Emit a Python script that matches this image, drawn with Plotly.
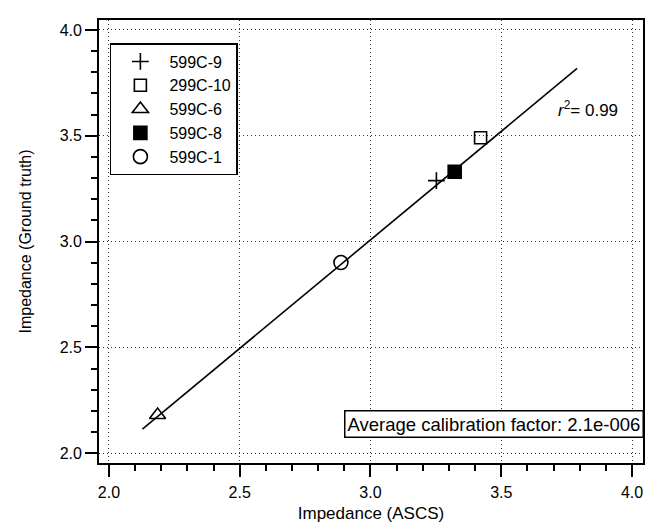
import plotly.graph_objects as go

# Data
series_names = ["599C-9", "299C-10", "599C-6", "599C-8", "599C-1"]
asc_x = [3.252, 3.421, 2.186, 3.322, 2.887]
truth_y = [3.288, 3.491, 2.181, 3.330, 2.901]
symbols = ["cross-thin", "square-open", "triangle-up-open", "square", "circle-open"]
marker_sizes = [12, 12, 14, 13, 14]

fit_x = [2.128, 3.790]
fit_y = [2.114, 3.818]

r2_text = "<i>r</i><sup>2</sup>= 0.99"
calib_text = "Average calibration factor: 2.1e-006"

FONT = "Arial, 'Liberation Sans', Helvetica, sans-serif"

fig = go.Figure()

fig.add_trace(go.Scatter(x=fit_x, y=fit_y, mode="lines",
                         line=dict(color="black", width=1.6),
                         showlegend=False, hoverinfo="skip"))

for name, xv, yv, sym, sz in zip(series_names, asc_x, truth_y, symbols, marker_sizes):
    fig.add_trace(go.Scatter(
        x=[xv], y=[yv], mode="markers", name=name,
        marker=dict(symbol=sym, size=sz, color="black",
                    line=dict(color="black", width=1.6))))

axis_common = dict(
    showline=True, linecolor="black", linewidth=1.8, mirror=True,
    ticks="outside", ticklen=12, tickwidth=1.8, tickcolor="black",
    showgrid=True, gridcolor="#333333", griddash="1px,3px", gridwidth=1,
    zeroline=False, dtick=0.5, tickformat=".1f",
    tickfont=dict(family=FONT, size=16, color="black"),
    minor=dict(ticks="outside", ticklen=6, tickwidth=1.5, tickcolor="black",
               dtick=0.1, showgrid=False),
)

fig.update_xaxes(**axis_common, range=[1.962, 4.042], tick0=2.0,
                 ticklabelstandoff=2,
                 title=dict(text="Impedance (ASCS)", standoff=7,
                            font=dict(family=FONT, size=17, color="black")))
fig.update_yaxes(**axis_common, range=[1.954, 4.047], tick0=2.0,
                 ticklabelstandoff=0,
                 title=dict(text="Impedance (Ground truth)", standoff=24,
                            font=dict(family=FONT, size=16, color="black")))

fig.add_annotation(x=3.83, y=3.625, xref="x", yref="y", text=r2_text,
                   showarrow=False, font=dict(family=FONT, size=17, color="black"))

fig.add_annotation(x=1.002, y=0.088, xref="paper", yref="paper",
                   xanchor="right", yanchor="middle", text=calib_text,
                   showarrow=False, bordercolor="black", borderwidth=1.5,
                   borderpad=2, bgcolor="white",
                   font=dict(family=FONT, size=18.5, color="black"))

fig.update_layout(
    width=647, height=525,
    margin=dict(l=99, r=2, t=20, b=62),
    paper_bgcolor="white", plot_bgcolor="white",
    font=dict(family=FONT, size=16, color="black"),
    legend=dict(x=0.02, y=0.948, xanchor="left", yanchor="top",
                bordercolor="black", borderwidth=1.5, bgcolor="white",
                font=dict(family=FONT, size=16, color="black"),
                itemwidth=48, tracegroupgap=0),
    showlegend=True,
)

fig.write_html("out.html", config={"displayModeBar": False},
               post_script="document.body.style.margin='0';")
